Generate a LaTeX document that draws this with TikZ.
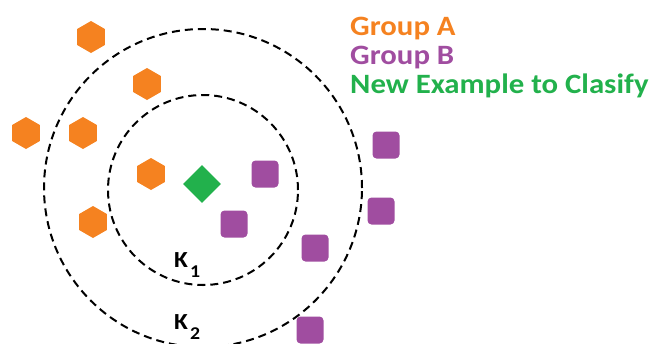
\documentclass[tikz,border=0pt]{standalone}
\usepackage{fontspec}
\setmainfont{Carlito}
\newfontfamily\legendfont{Carlito}[FakeStretch=1.1]
\usetikzlibrary{shapes.geometric}
\definecolor{orangeA}{RGB}{245,130,32}
\definecolor{purpleB}{RGB}{160,77,160}
\definecolor{greenN}{RGB}{34,177,76}
\newcommand{\ksub}[1]{\kern2pt\raisebox{-10pt}{\fontsize{18pt}{20pt}\selectfont #1}}
\tikzset{
  hexa/.style={regular polygon, regular polygon sides=6, shape border rotate=30, fill=orangeA, draw=none, minimum size=32pt, inner sep=0pt},
  sq/.style={rectangle, rounded corners=4pt, fill=purpleB, draw=none, minimum size=27pt, inner sep=0pt},
  dia/.style={diamond, fill=greenN, draw=none, minimum width=38pt, minimum height=38pt, inner sep=0pt},
  ring/.style={circle, draw=black, line width=2pt, dash pattern=on 8pt off 5pt, inner sep=0pt},
  legend/.style={anchor=base west, font=\legendfont\fontsize{28pt}{32pt}\selectfont\bfseries, inner sep=0pt},
  klabel/.style={anchor=base west, font=\legendfont\fontsize{23pt}{26pt}\selectfont\bfseries, inner sep=0pt}
}
\begin{document}
\begin{tikzpicture}[x=1pt,y=-1pt]
\useasboundingbox (0,0) rectangle (652,343);
\clip (0,0) rectangle (652,343);
\node[ring, minimum size=190pt] (k1ring) at (203,190) {};
\node[ring, minimum size=318pt] (k2ring) at (203,188) {};
\node[hexa] (a1) at (91,37) {};
\node[hexa] (a2) at (147,84) {};
\node[hexa] (a3) at (26,133) {};
\node[hexa] (a4) at (83,133) {};
\node[hexa] (a5) at (151,174) {};
\node[hexa] (a6) at (93,222) {};
\node[dia] (new) at (202,184) {};
\node[sq] (b1) at (265,174) {};
\node[sq] (b2) at (234,224) {};
\node[sq] (b3) at (315,248) {};
\node[sq] (b4) at (310,330) {};
\node[sq] (b5) at (386,145) {};
\node[sq] (b6) at (381,211) {};
\node[klabel] (k1) at (174,267) {K\ksub{1}};
\node[klabel] (k2) at (174,329) {K\ksub{2}};
\node[legend, text=orangeA] (la) at (350,35) {Group A};
\node[legend, text=purpleB] (lb) at (350,64) {Group B};
\node[legend, text=greenN] (ln) at (350,93) {New Example to Clasify};
\end{tikzpicture}
\end{document}
